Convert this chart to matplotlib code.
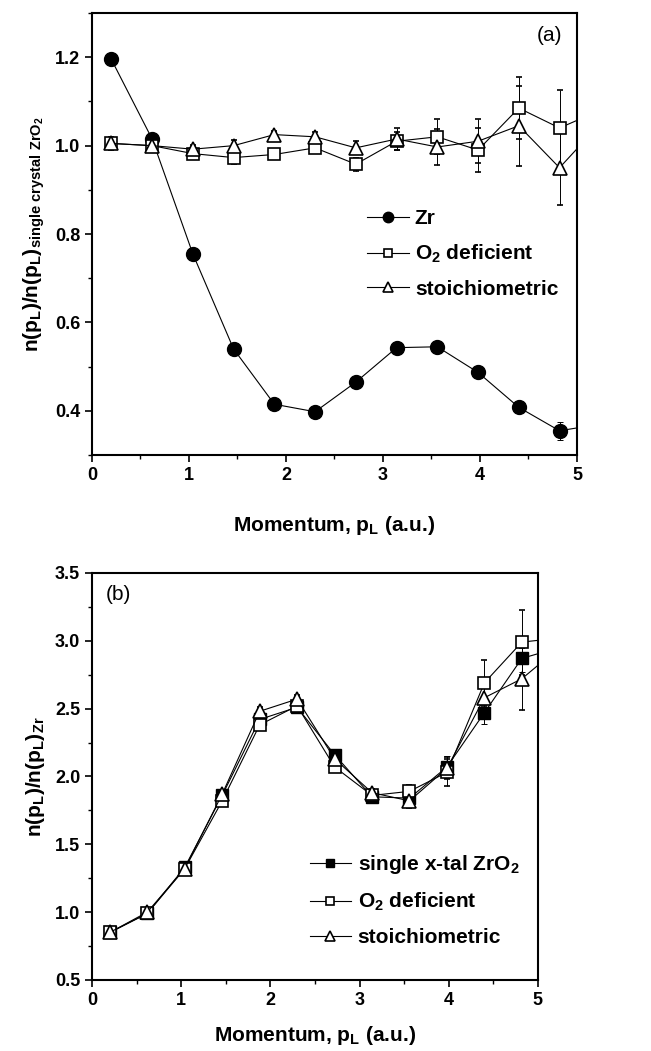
import numpy as np
import matplotlib
matplotlib.use("Agg")
import matplotlib.pyplot as plt

plt.rcParams['font.family'] = ['Liberation Sans', 'DejaVu Sans']
plt.rcParams['font.weight'] = 'bold'
plt.rcParams['axes.labelweight'] = 'bold'
plt.rcParams['mathtext.fontset'] = 'custom'
plt.rcParams['mathtext.rm'] = 'Liberation Sans:bold'
plt.rcParams['mathtext.it'] = 'Liberation Sans:bold'
plt.rcParams['mathtext.bf'] = 'Liberation Sans:bold'

# momentum values (last point lies beyond the axis and is clipped)
p = [0.2, 0.62, 1.04, 1.46, 1.88, 2.3, 2.72, 3.14, 3.56, 3.98, 4.4, 4.82, 5.24]

# panel (a): ratio to single crystal ZrO2
zr_a = [1.195, 1.015, 0.755, 0.54, 0.415, 0.398, 0.465, 0.543, 0.545, 0.487, 0.408, 0.355, 0.37]
zr_a_err = [0.005, 0.005, 0.005, 0.005, 0.005, 0.005, 0.005, 0.005, 0.005, 0.008, 0.012, 0.02, 0.02]
o2_a = [1.005, 1.0, 0.982, 0.973, 0.98, 0.995, 0.958, 1.01, 1.02, 0.99, 1.085, 1.04, 1.08]
o2_a_err = [0.012, 0.012, 0.012, 0.015, 0.01, 0.01, 0.015, 0.02, 0.04, 0.05, 0.07, 0.085, 0.08]
st_a = [1.005, 1.0, 0.992, 1.0, 1.025, 1.02, 0.995, 1.015, 0.997, 1.01, 1.045, 0.95, 1.05]
st_a_err = [0.015, 0.012, 0.01, 0.012, 0.008, 0.01, 0.015, 0.025, 0.04, 0.05, 0.09, 0.085, 0.08]

# panel (b): ratio to Zr
sx_b = [0.85, 0.99, 1.33, 1.86, 2.42, 2.51, 2.16, 1.85, 1.84, 2.07, 2.47, 2.87, 2.95]
sx_b_err = [0.03, 0.03, 0.03, 0.03, 0.03, 0.03, 0.03, 0.03, 0.06, 0.08, 0.08, 0.1, 0.1]
o2_b = [0.85, 0.99, 1.32, 1.82, 2.38, 2.52, 2.07, 1.86, 1.89, 2.03, 2.69, 2.99, 3.02]
o2_b_err = [0.03, 0.03, 0.03, 0.03, 0.03, 0.03, 0.03, 0.03, 0.05, 0.1, 0.17, 0.24, 0.2]
st_b = [0.85, 1.0, 1.32, 1.87, 2.48, 2.57, 2.13, 1.88, 1.82, 2.06, 2.58, 2.72, 2.95]
st_b_err = [0.03, 0.03, 0.03, 0.03, 0.03, 0.03, 0.03, 0.03, 0.05, 0.08, 0.1, 0.23, 0.2]

fig = plt.figure(figsize=(6.51, 10.51), dpi=100)
ax1 = fig.add_axes([0.1413, 0.567, 0.745, 0.4206])
ax2 = fig.add_axes([0.1413, 0.0676, 0.685, 0.3873])

kw = dict(color='k', lw=0.8, capsize=2, elinewidth=0.7, capthick=0.7)
ax1.errorbar(p, zr_a, yerr=zr_a_err, marker='o', ms=10, mfc='k', mec='k',
             label='Zr', **kw)
ax1.errorbar(p, o2_a, yerr=o2_a_err, marker='s', ms=8, mfc='white', mec='k',
             mew=1.2, label=r'O$_2$ deficient', **kw)
ax1.errorbar(p, st_a, yerr=st_a_err, marker='^', ms=10, mfc='white', mec='k',
             mew=1.2, label='stoichiometric', **kw)

ax2.errorbar(p, sx_b, yerr=sx_b_err, marker='s', ms=8, mfc='k', mec='k',
             label=r'single x-tal ZrO$_2$', **kw)
ax2.errorbar(p, o2_b, yerr=o2_b_err, marker='s', ms=8, mfc='white', mec='k',
             mew=1.2, label=r'O$_2$ deficient', **kw)
ax2.errorbar(p, st_b, yerr=st_b_err, marker='^', ms=10, mfc='white', mec='k',
             mew=1.2, label='stoichiometric', **kw)

ax1.set_xlim(0, 5)
ax1.set_ylim(0.3, 1.3)
ax1.set_yticks([0.4, 0.6, 0.8, 1.0, 1.2])
ax1.set_yticks(np.arange(0.3, 1.31, 0.1), minor=True)
ax2.set_xlim(0, 5)
ax2.set_ylim(0.5, 3.5)
ax2.set_yticks(np.arange(0.5, 3.51, 0.5))
ax2.set_yticks(np.arange(0.5, 3.51, 0.25), minor=True)

for ax in (ax1, ax2):
    ax.set_xticks([0, 1, 2, 3, 4, 5])
    ax.set_xticks(np.arange(0, 5.01, 0.5), minor=True)
    ax.tick_params(which='major', direction='out', length=5, width=1.2,
                   labelsize=13)
    ax.tick_params(which='minor', direction='out', length=3, width=1.0)
    for s in ax.spines.values():
        s.set_linewidth(1.5)
    ax.yaxis.set_major_formatter(matplotlib.ticker.FormatStrFormatter('%.1f'))

ax1.set_xlabel(r'Momentum, p$_\mathregular{L}$ (a.u.)', fontsize=15, labelpad=22)
ax2.set_xlabel(r'Momentum, p$_\mathregular{L}$ (a.u.)', fontsize=15, labelpad=11)
ax1.set_ylabel(r'n(p$_\mathregular{L}$)/n(p$_\mathregular{L}$)$_\mathregular{single\ crystal\ ZrO_2}$',
               fontsize=15, labelpad=6)
ax2.set_ylabel(r'n(p$_\mathregular{L}$)/n(p$_\mathregular{L}$)$_\mathregular{Zr}$',
               fontsize=15, labelpad=6)

ax1.text(0.97, 0.97, '(a)', transform=ax1.transAxes, ha='right', va='top',
         fontsize=15, fontweight='normal')
ax2.text(0.03, 0.97, '(b)', transform=ax2.transAxes, ha='left', va='top',
         fontsize=15, fontweight='normal')

for ax, anchor, loc in ((ax1, (1.0, 0.455), 'center right'),
                        (ax2, (1.0, 0.035), 'lower right')):
    handles, labels = ax.get_legend_handles_labels()
    handles = [h[0] for h in handles]
    ax.legend(handles, labels, loc=loc, bbox_to_anchor=anchor, frameon=False,
              fontsize=15, handlelength=2.0, handletextpad=0.3,
              labelspacing=0.7, markerscale=0.75)

fig.savefig('out.png', dpi=100)
